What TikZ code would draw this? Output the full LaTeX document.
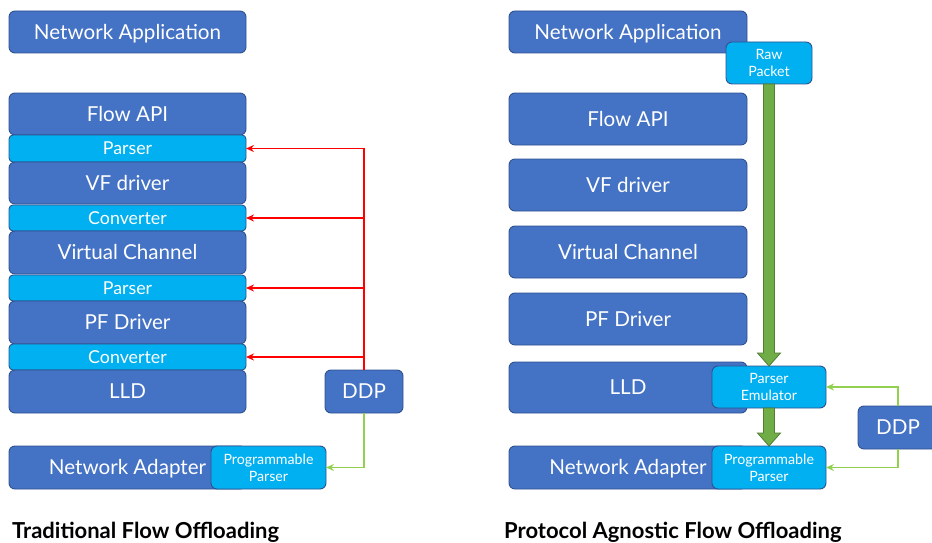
\documentclass[tikz,border=0pt]{standalone}
\usepackage{fontspec}
\setmainfont{Lato}
\usetikzlibrary{arrows.meta,calc}

\definecolor{layerblue}{HTML}{4472C4}
\definecolor{edgeblue}{HTML}{2F528F}
\definecolor{cyanbar}{HTML}{00B0F0}
\definecolor{pipegreen}{HTML}{70AD47}
\definecolor{pipeedge}{HTML}{507E32}
\definecolor{wiregreen}{HTML}{92D050}

\tikzset{
  wh/.style 2 args={minimum width=#1pt, minimum height=#2pt},
  layer/.style={draw=edgeblue, fill=layerblue, line width=0.9pt,
    rounded corners=6pt, text=white, inner sep=0pt, outer sep=0pt,
    text height=14.8pt, text depth=0pt,
    font=\fontsize{20.6}{22}\selectfont},
  bar/.style={layer, fill=cyanbar, rounded corners=4pt,
    text height=12.8pt, font=\fontsize{17.8}{19}\selectfont},
  chip/.style={layer, fill=cyanbar, align=center, text height=, text depth=,
    font=\fontsize{14.2}{17}\selectfont},
  caption/.style={anchor=base west, inner sep=0pt,
    font=\fontsize{22}{24}\selectfont\bfseries},
  ctrl/.style={draw=red, line width=1.3pt, -{Stealth[length=8pt,width=7pt]}},
  wire/.style={draw=wiregreen, line width=1.2pt, -{Stealth[length=8pt,width=7pt]}},
  pipe/.style={fill=pipegreen, draw=pipeedge, line width=0.8pt}
}

% thick green arrow from the bottom of #1 to the top of #2
\newcommand{\pipe}[2]{%
  \draw[pipe] ($(#1.south)+(-5.5,0)$) -- ($(#2.north)+(-5.5,-13)$) -- ++(-6,0)
    -- (#2.north) -- ++(11.5,-13) -- ++(-6,0) -- ($(#1.south)+(5.5,0)$) -- cycle;}

\begin{document}
\begin{tikzpicture}[x=1pt, y=-1pt]
  \useasboundingbox (0,0) rectangle (932,543);

  % traditional stack
  \node[layer, wh={237}{42}] (appL) at (127.5,32) {Network Application};
  \node[layer, wh={237}{42}] (flowL) at (127.5,114) {Flow API};
  \node[bar, wh={237}{27}] (parseA) at (127.5,148.5) {Parser};
  \node[layer, wh={237}{42}] (vfL) at (127.5,183) {VF driver};
  \node[bar, wh={237}{26}] (convA) at (127.5,218) {Converter};
  \node[layer, wh={237}{43}] (vcL) at (127.5,252.5) {Virtual Channel};
  \node[bar, wh={237}{26}] (parseB) at (127.5,288) {Parser};
  \node[layer, wh={237}{43}] (pfL) at (127.5,322.5) {PF Driver};
  \node[bar, wh={237}{26}] (convB) at (127.5,357) {Converter};
  \node[layer, wh={237}{43}] (lldL) at (127.5,391.5) {LLD};
  \node[layer, wh={78}{43}] (ddpL) at (364,391.5) {DDP};
  \node[layer, wh={237}{43}] (nicL) at (127.5,467.5) {Network Adapter};
  \node[chip, wh={115}{43}] (progL) at (268.5,467.5) {Programmable\\Parser};
  \node[caption] (titleL) at (12,538) {Traditional Flow Offloading};

  % DDP feeds every parser / converter
  \draw[ctrl] (ddpL.north) |- (parseA.east);
  \draw[ctrl] (ddpL.north |- convA.east) -- (convA.east);
  \draw[ctrl] (ddpL.north |- parseB.east) -- (parseB.east);
  \draw[ctrl] (ddpL.north |- convB.east) -- (convB.east);
  \draw[wire] (ddpL.south) |- (progL.east);

  % protocol agnostic stack
  \node[layer, wh={238}{42}] (appR) at (628,32) {Network Application};
  \node[chip, wh={86}{42}] (rawR) at (769,63) {Raw\\Packet};
  \node[layer, wh={238}{52}] (flowR) at (628,119) {Flow API};
  \node[layer, wh={238}{52}] (vfR) at (628,185) {VF driver};
  \node[layer, wh={238}{52}] (vcR) at (628,252) {Virtual Channel};
  \node[layer, wh={238}{52}] (pfR) at (628,319) {PF Driver};
  \node[layer, wh={238}{51}] (lldR) at (628,387.5) {LLD};
  \node[chip, wh={114}{42}] (emuR) at (769,387) {Parser\\Emulator};
  \node[layer, wh={80}{43}] (ddpR) at (898,427.5) {DDP};
  \node[layer, wh={238}{43}] (nicR) at (628,467.5) {Network Adapter};
  \node[chip, wh={114}{43}] (progR) at (769,467.5) {Programmable\\Parser};
  \node[caption] (titleR) at (504,538) {Protocol Agnostic Flow Offloading};

  % packet path and DDP updates
  \pipe{rawR}{emuR}
  \pipe{emuR}{progR}
  \draw[wire] (ddpR.north) |- (emuR.east);
  \draw[wire] (ddpR.south) |- (progR.east);
\end{tikzpicture}
\end{document}
